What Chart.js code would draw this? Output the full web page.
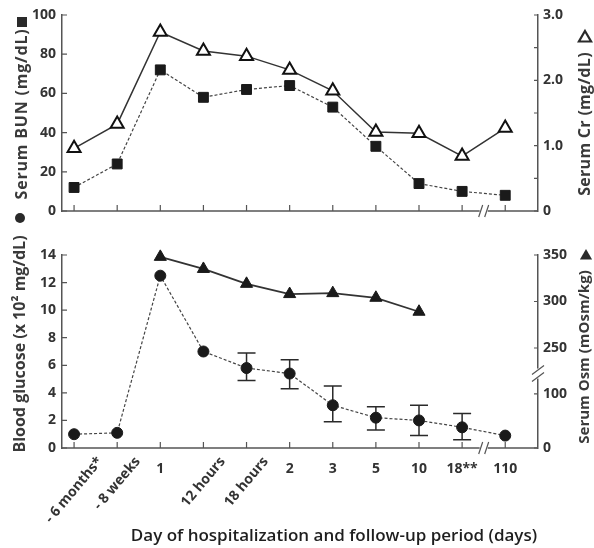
<!DOCTYPE html>
<html>
<head>
<meta charset="utf-8">
<script src="https://cdn.jsdelivr.net/npm/chart.js@4.4.1/dist/chart.umd.min.js"></script>
<style>
  html, body { margin: 0; padding: 0; background: #fff; }
  #wrap { position: relative; width: 594px; height: 548px; }
  canvas { position: absolute; left: 0; }
  #topChart { top: 0; }
  #bottomChart { top: 200px; }
</style>
</head>
<body>
<div id="wrap">
  <canvas id="topChart" width="594" height="232"></canvas>
  <canvas id="bottomChart" width="594" height="348"></canvas>
</div>
<script>
// days / periods on the x axis
const days = ['- 6 months*', '- 8 weeks', '1', '12 hours', '18 hours', '2', '3', '5', '10', '18**', '110'];

// top panel
const bun = [12, 24, 72, 58, 62, 64, 53, 33, 14, 10, 8];
const creatinine = [0.96, 1.33, 2.74, 2.45, 2.37, 2.16, 1.84, 1.21, 1.19, 0.84, 1.27];

// bottom panel
const glucose = [1.0, 1.1, 12.5, 7.0, 5.8, 5.4, 3.1, 2.2, 2.0, 1.5, 0.9];
const glucoseHigh = [null, null, null, null, 6.9, 6.4, 4.5, 3.0, 3.1, 2.5, null];
const glucoseLow = [null, null, null, null, 4.9, 4.3, 1.9, 1.3, 0.9, 0.6, null];
const osm = [null, null, 348, 335, 319, 308, 309, 304, 289, null, null];
const osmTicks = [0, 100, 250, 300, 350];

const osmMin = 142.5, osmMax = 350;
// broken right axis: 0-100 squeezed at the bottom, 250-350 on the upper part
function osmToAxis(v) {
  if (v <= 100) return v * 0.0392;
  return (v - osmMin) / (osmMax - osmMin) * 14;
}

const toPoints = arr => arr.map((v, i) => ({ x: i, y: v })).filter(p => p.y !== null);

const ink = '#2a2a2a';
const axisColor = '#555';
const tickFont = { family: 'Open Sans', size: 14, weight: 'bold' };

function vText(ctx, text, x, y, size, spacing) {
  ctx.save();
  ctx.font = 'bold ' + size + 'px "Open Sans"';
  ctx.translate(x, y);
  ctx.rotate(-Math.PI / 2);
  ctx.textAlign = 'center';
  ctx.textBaseline = 'middle';
  ctx.letterSpacing = spacing + 'px';
  ctx.fillText(text, 0, 0);
  ctx.restore();
}

function drawBreak(ctx, x, y, vertical) {
  ctx.save();
  ctx.fillStyle = '#fff';
  if (vertical) ctx.fillRect(x - 4, y - 5, 8, 10);
  else ctx.fillRect(x - 4, y - 4, 8, 8);
  ctx.strokeStyle = axisColor;
  ctx.lineWidth = 1.2;
  ctx.beginPath();
  if (vertical) {
    ctx.moveTo(x - 6, y + 1); ctx.lineTo(x + 6, y - 8);
    ctx.moveTo(x - 6, y + 8); ctx.lineTo(x + 6, y - 1);
  } else {
    ctx.moveTo(x - 5, y + 6); ctx.lineTo(x - 1, y - 6);
    ctx.moveTo(x + 1, y + 6); ctx.lineTo(x + 5, y - 6);
  }
  ctx.stroke();
  ctx.restore();
}

// x axis line, inward tick marks and the break
function drawFrame(chart, leftId, rightId) {
  const ctx = chart.ctx;
  const area = chart.chartArea;
  const xs = chart.scales.x;
  ctx.save();
  ctx.strokeStyle = axisColor;
  ctx.lineWidth = 1.5;
  ctx.beginPath();
  ctx.moveTo(area.left, area.bottom);
  ctx.lineTo(area.right, area.bottom);
  ctx.stroke();
  ctx.lineWidth = 1.2;
  ctx.beginPath();
  days.forEach((d, i) => {
    const x = xs.getPixelForValue(i);
    ctx.moveTo(x, area.bottom);
    ctx.lineTo(x, area.bottom - 6);
  });
  chart.scales[leftId].ticks.forEach(t => {
    const y = chart.scales[leftId].getPixelForValue(t.value);
    ctx.moveTo(area.left, y);
    ctx.lineTo(area.left + 5, y);
  });
  chart.scales[rightId].ticks.forEach(t => {
    const y = chart.scales[rightId].getPixelForValue(t.value);
    ctx.moveTo(area.right, y);
    ctx.lineTo(area.right - 4, y);
  });
  ctx.stroke();
  ctx.restore();
  drawBreak(ctx, xs.getPixelForValue(9.5), area.bottom, false);
}

function marker(ctx, kind, x, y, r) {
  ctx.save();
  ctx.fillStyle = ink;
  ctx.strokeStyle = ink;
  ctx.beginPath();
  if (kind === 'square') {
    ctx.rect(x - r, y - r, 2 * r, 2 * r);
    ctx.fill();
  } else if (kind === 'circle') {
    ctx.arc(x, y, r, 0, Math.PI * 2);
    ctx.fill();
  } else {
    ctx.moveTo(x, y - r);
    ctx.lineTo(x + r * 0.87, y + r * 0.5);
    ctx.lineTo(x - r * 0.87, y + r * 0.5);
    ctx.closePath();
    if (kind === 'open') {
      ctx.fillStyle = '#fff';
      ctx.fill();
      ctx.lineWidth = 2.2;
      ctx.stroke();
    } else {
      ctx.fill();
    }
  }
  ctx.restore();
}

const topDecor = {
  id: 'topDecor',
  afterDraw(chart) {
    drawFrame(chart, 'yBun', 'yCr');
    const ctx = chart.ctx;
    ctx.save();
    ctx.fillStyle = '#3a3a3a';
    vText(ctx, 'Serum BUN (mg/dL)', 22, 114, 16, 0.8);
    vText(ctx, 'Serum Cr (mg/dL)', 585, 124, 16, 0.3);
    ctx.restore();
    marker(ctx, 'square', 22, 22, 5);
    marker(ctx, 'open', 585, 38, 7);
  }
};

const bottomDecor = {
  id: 'bottomDecor',
  beforeDatasetsDraw(chart) {
    const ctx = chart.ctx;
    const xs = chart.scales.x;
    const ys = chart.scales.yGlu;
    ctx.save();
    ctx.strokeStyle = ink;
    ctx.lineWidth = 1.5;
    ctx.beginPath();
    glucoseHigh.forEach((hi, i) => {
      if (hi === null) return;
      const x = xs.getPixelForValue(i);
      const yh = ys.getPixelForValue(hi);
      const yl = ys.getPixelForValue(glucoseLow[i]);
      ctx.moveTo(x, yh); ctx.lineTo(x, yl);
      ctx.moveTo(x - 9, yh); ctx.lineTo(x + 9, yh);
      ctx.moveTo(x - 9, yl); ctx.lineTo(x + 9, yl);
    });
    ctx.stroke();
    ctx.restore();
  },
  afterDraw(chart) {
    drawFrame(chart, 'yGlu', 'yOsmAxis');
    const ctx = chart.ctx;
    const area = chart.chartArea;
    const xs = chart.scales.x;
    drawBreak(ctx, area.right, chart.scales.yOsmAxis.getPixelForValue(5.4), true);

    ctx.save();
    ctx.fillStyle = '#3a3a3a';
    vText(ctx, 'Blood glucose (x 10\u00b2 mg/dL)', 20, 144, 16, 0);
    vText(ctx, 'Serum Osm (mOsm/kg)', 585, 157, 15, 0);

    // x labels, word labels slanted
    ctx.fillStyle = '#333';
    ctx.font = 'bold 14px "Open Sans"';
    days.forEach((d, i) => {
      const x = xs.getPixelForValue(i);
      if (/[a-z]/.test(d)) {
        const w = ctx.measureText(d).width;
        ctx.save();
        ctx.translate(x + 0.32 * w, area.bottom + 11);
        ctx.rotate(-50 * Math.PI / 180);
        ctx.textAlign = 'right';
        ctx.textBaseline = 'middle';
        ctx.fillText(d, 0, 0);
        ctx.restore();
      } else {
        ctx.textAlign = 'center';
        ctx.textBaseline = 'middle';
        ctx.fillText(d, x, area.bottom + 21);
      }
    });

    ctx.fillStyle = '#1e1e1e';
    ctx.font = '600 17px "Open Sans"';
    ctx.textAlign = 'center';
    ctx.textBaseline = 'middle';
    ctx.fillText('Day of hospitalization and follow-up period (days)', 334, 336);
    ctx.restore();

    marker(ctx, 'circle', 20, 18, 5);
    marker(ctx, 'solid', 586, 56, 7);
  }
};

const leftAxis = (extra) => Object.assign({
  position: 'left',
  grid: { drawOnChartArea: false, drawTicks: false },
  border: { display: true, color: axisColor, width: 1.5 },
  afterFit: s => { s.width = 62; }
}, extra);

const rightAxis = (extra) => Object.assign({
  position: 'right',
  grid: { drawOnChartArea: false, drawTicks: false },
  border: { display: true, color: axisColor, width: 1.5 },
  afterFit: s => { s.width = 56; }
}, extra);

const tChart = new Chart(document.getElementById('topChart'), {
  type: 'line',
  data: {
    datasets: [
      {
        data: toPoints(bun),
        yAxisID: 'yBun',
        clip: false,
        borderColor: '#444',
        borderWidth: 1.2,
        borderDash: [3, 2],
        pointStyle: 'rect',
        pointRadius: 7,
        pointBackgroundColor: '#1a1a1a',
        pointBorderColor: '#1a1a1a',
        pointBorderWidth: 1
      },
      {
        data: toPoints(creatinine),
        yAxisID: 'yCr',
        clip: false,
        borderColor: '#333',
        borderWidth: 1.5,
        pointStyle: 'triangle',
        pointRadius: 7.5,
        pointBackgroundColor: '#fff',
        pointBorderColor: '#111',
        pointBorderWidth: 2
      }
    ]
  },
  options: {
    responsive: false,
    animation: false,
    devicePixelRatio: 1,
    layout: { padding: { top: 15, bottom: 21, left: 0, right: 0 } },
    plugins: { legend: { display: false }, tooltip: { enabled: false } },
    scales: {
      x: { type: 'linear', display: false, min: -0.28, max: 10.76 },
      yBun: leftAxis({ min: 0, max: 100, ticks: { font: tickFont, color: '#333', padding: 6, stepSize: 20 } }),
      yCr: rightAxis({
        min: 0, max: 3,
        ticks: {
          font: tickFont, color: '#333', padding: 5, stepSize: 0.5, autoSkip: false,
          callback: v => Number.isInteger(v) ? (v === 0 ? '0' : v.toFixed(1)) : ''
        }
      })
    }
  },
  plugins: [topDecor]
});

const bChart = new Chart(document.getElementById('bottomChart'), {
  type: 'line',
  data: {
    datasets: [
      {
        data: toPoints(glucose),
        yAxisID: 'yGlu',
        clip: false,
        borderColor: '#444',
        borderWidth: 1.2,
        borderDash: [3, 2],
        pointStyle: 'circle',
        pointRadius: 5.5,
        pointBackgroundColor: '#1a1a1a',
        pointBorderColor: '#1a1a1a',
        pointBorderWidth: 1
      },
      {
        data: toPoints(osm),
        yAxisID: 'yOsm',
        clip: false,
        borderColor: '#333',
        borderWidth: 1.8,
        pointStyle: 'triangle',
        pointRadius: 7,
        pointBackgroundColor: '#1a1a1a',
        pointBorderColor: '#1a1a1a',
        pointBorderWidth: 1
      }
    ]
  },
  options: {
    responsive: false,
    animation: false,
    devicePixelRatio: 1,
    layout: { padding: { top: 55, bottom: 100, left: 0, right: 0 } },
    plugins: { legend: { display: false }, tooltip: { enabled: false } },
    scales: {
      x: { type: 'linear', display: false, min: -0.28, max: 10.76 },
      yGlu: leftAxis({ min: 0, max: 14, ticks: { font: tickFont, color: '#333', padding: 6, stepSize: 2 } }),
      yOsmAxis: rightAxis({
        min: 0, max: 14,
        afterBuildTicks: s => { s.ticks = osmTicks.map(v => ({ value: osmToAxis(v) })); },
        ticks: {
          font: tickFont, color: '#333', padding: 5, autoSkip: false,
          callback: (v, i) => String(osmTicks[i])
        }
      }),
      yOsm: { display: false, min: osmMin, max: osmMax }
    }
  },
  plugins: [bottomDecor]
});
</script>
</body>
</html>
